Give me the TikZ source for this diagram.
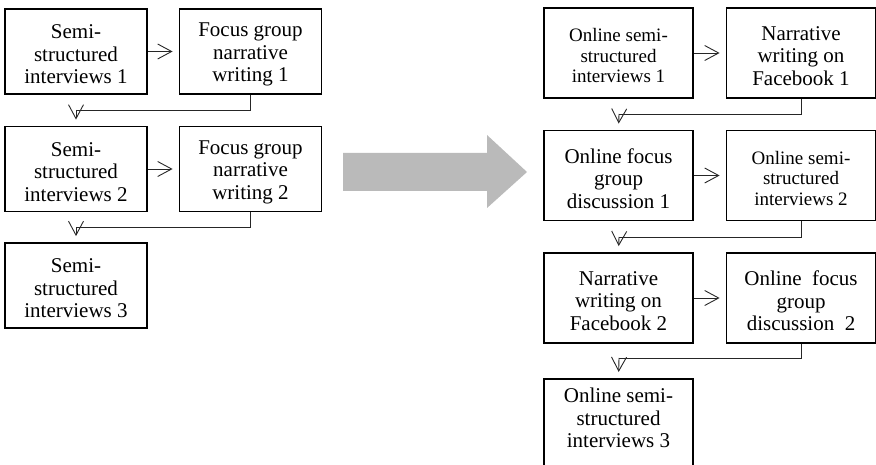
\documentclass[tikz,border=0pt]{standalone}
\usepackage{fontspec}
\setmainfont{Liberation Serif}
\usetikzlibrary{arrows.meta}

\tikzset{
  frame/.style={draw, line width=1.8bp, inner sep=0pt},
  lbox/.style={frame, minimum width=142bp, minimum height=85bp},
  rbox/.style={frame, minimum width=149bp, minimum height=90bp},
  big/.style={align=center, inner sep=0pt, font=\fontsize{21bp}{22.5bp}\selectfont},
  small/.style={align=center, inner sep=0pt, font=\fontsize{19bp}{20.5bp}\selectfont},
  link/.style={line width=0.9bp, draw=black!85},
  flow/.style={link,
    -{Straight Barb[length=14bp, width=15bp, line width=0.9bp]}, shorten >=6bp},
}

% stage box: style, name, centre, text style, text
\newcommand\stagebox[5]{%
  \node[#1] (#2) at (#3) {};
  \node[#4] (#2-text) at ([yshift=-3bp]#2.center) {#5};}

\begin{document}
\begin{tikzpicture}[x=1bp, y=-1bp]
  \useasboundingbox (0,0) rectangle (876,465);
  \clip (0,0) rectangle (876,465);

  % left sequence
  \stagebox{lbox}{l1}{76,51.5}{big}{Semi-\\structured\\interviews 1}
  \stagebox{lbox}{l2}{250.5,51.5}{big}{Focus group\\narrative\\writing 1}
  \stagebox{lbox}{l3}{76,169}{big}{Semi-\\structured\\interviews 2}
  \stagebox{lbox}{l4}{250.5,169}{big}{Focus group\\narrative\\writing 2}
  \stagebox{lbox}{l5}{76,285.5}{big}{Semi-\\structured\\interviews 3}

  \coordinate (lj1) at (76,110);
  \coordinate (lj2) at (76,227);
  \draw[flow] (l1.east) -- (l2.west);
  \draw[flow] (l3.east) -- (l4.west);
  \draw[link] (l2.south) |- (lj1);
  \draw[flow] (lj1) -- (l3.north);
  \draw[link] (l4.south) |- (lj2);
  \draw[flow] (lj2) -- (l5.north);

  % transition arrow
  \fill[black!27] (343,153) -- (487,153) -- (487,135) -- (527,172)
    -- (487,208) -- (487,191) -- (343,191) -- cycle;

  % right sequence
  \stagebox{rbox}{r1}{618.5,53}{small}{Online semi-\\structured\\interviews 1}
  \stagebox{rbox}{r2}{801,53}{big}{Narrative\\writing on\\Facebook 1}
  \stagebox{rbox}{r3}{618.5,175.5}{big}{Online focus\\group\\discussion 1}
  \stagebox{rbox}{r4}{801,175.5}{small}{Online semi-\\structured\\interviews 2}
  \stagebox{rbox}{r5}{618.5,298}{big}{Narrative\\writing on\\Facebook 2}
  \stagebox{rbox}{r6}{801,298}{big}{Online\ \ focus\\group\\discussion\ \ 2}
  \node[rbox, anchor=north] (r7) at (618.5,378) {};
  \node[big, anchor=north] (r7-text) at (618.5,388) {Online semi-\\structured\\interviews 3};

  \coordinate (rj1) at (619,114);
  \coordinate (rj2) at (619,237);
  \coordinate (rj3) at (619,358);
  \draw[flow] (r1.east) -- (r2.west);
  \draw[flow] (r3.east) -- (r4.west);
  \draw[flow] (r5.east) -- (r6.west);
  \draw[link] (r2.south) |- (rj1);
  \draw[flow] (rj1) -- (r3.north);
  \draw[link] (r4.south) |- (rj2);
  \draw[flow] (rj2) -- (r5.north);
  \draw[link] (r6.south) |- (rj3);
  \draw[flow] (rj3) -- (r7.north);
\end{tikzpicture}
\end{document}
